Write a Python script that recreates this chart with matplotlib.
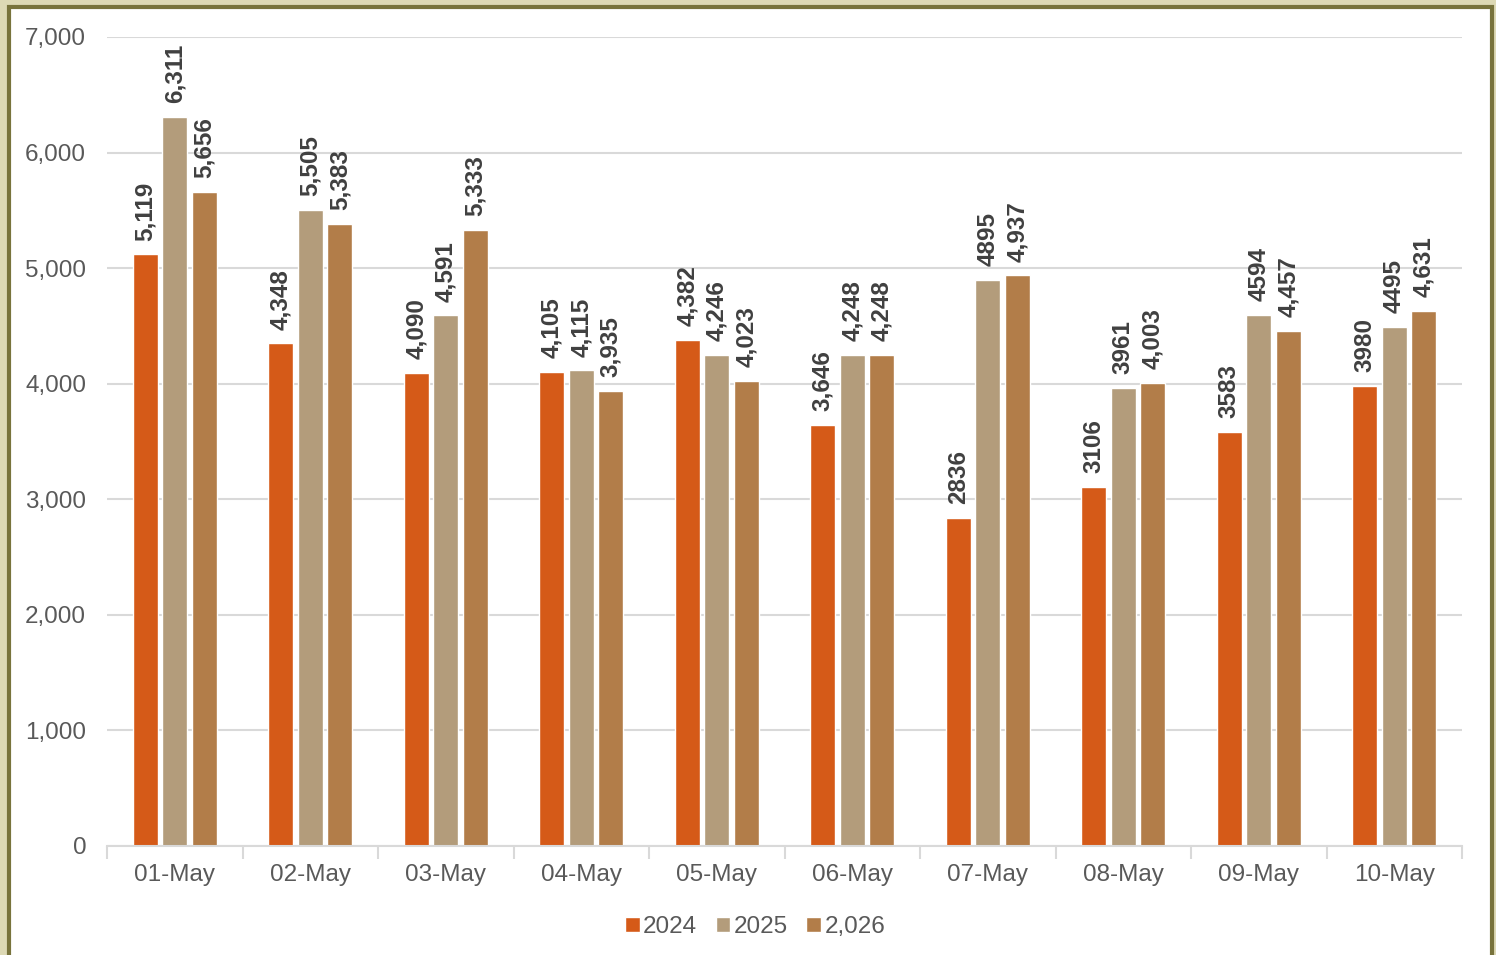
import numpy as np
import matplotlib.pyplot as plt
from matplotlib.patches import Rectangle

plt.rcParams["font.family"] = ["Liberation Sans", "DejaVu Sans"]

days = ["01-May", "02-May", "03-May", "04-May", "05-May",
        "06-May", "07-May", "08-May", "09-May", "10-May"]
series = ["2024", "2025", "2,026"]
v2024 = [5119, 4348, 4090, 4105, 4382, 3646, 2836, 3106, 3583, 3980]
v2025 = [6311, 5505, 4591, 4115, 4246, 4248, 4895, 3961, 4594, 4495]
v2026 = [5656, 5383, 5333, 3935, 4023, 4248, 4937, 4003, 4457, 4631]
lab2024 = ["5,119", "4,348", "4,090", "4,105", "4,382", "3,646", "2836", "3106", "3583", "3980"]
lab2025 = ["6,311", "5,505", "4,591", "4,115", "4,246", "4,248", "4895", "3961", "4594", "4495"]
lab2026 = ["5,656", "5,383", "5,333", "3,935", "4,023", "4,248", "4,937", "4,003", "4,457", "4,631"]
colors = ["#D55A18", "#B39C7B", "#B27D49"]
yticks = [0, 1000, 2000, 3000, 4000, 5000, 6000, 7000]

fig = plt.figure(figsize=(14.96, 9.55), dpi=100)
fig.patch.set_facecolor("#DDD9B5")
frame = Rectangle((8.5 / 1496, -0.05), (1492 - 8.5) / 1496, (955 - 7) / 955 + 0.05,
                  transform=fig.transFigure, facecolor="white",
                  edgecolor="#78733C", linewidth=3, zorder=-1)
fig.add_artist(frame)

ax = fig.add_axes([107 / 1496, 1 - 846 / 955, (1462 - 107) / 1496, (846 - 37) / 955])
ax.set_facecolor("none")
ax.set_zorder(1)

x = np.arange(len(days))
step = 0.218
width = 0.185
for i, (vals, labs) in enumerate(zip([v2024, v2025, v2026], [lab2024, lab2025, lab2026])):
    pos = x + (i - 1) * step
    ax.bar(pos, vals, width, color=colors[i], edgecolor="white", linewidth=1,
           label=series[i], zorder=2)
    for px, v, t in zip(pos, vals, labs):
        ax.annotate(t, (px, v), xytext=(0, 10), textcoords="offset points",
                    rotation=90, ha="center", va="bottom", fontsize=17.5,
                    fontweight="bold", color="#404040")

ax.set_xlim(-0.5, len(days) - 0.5)
ax.set_ylim(0, 7000)
ax.set_yticks(yticks)
ax.set_yticklabels([f"{t:,}" for t in yticks])
ax.yaxis.grid(True, color="#D9D9D9", linewidth=1.5, zorder=0)
ax.set_axisbelow(True)

ax.set_xticks(x)
ax.set_xticklabels(days)
ax.set_xticks(np.arange(len(days) + 1) - 0.5, minor=True)
ax.tick_params(axis="x", which="major", length=0, pad=13, labelsize=17.5, labelcolor="#595959")
ax.tick_params(axis="x", which="minor", length=9, width=1.5, color="#D9D9D9", direction="out")
ax.tick_params(axis="y", length=0, pad=15, labelsize=17.5, labelcolor="#595959")

for s in ["top", "right", "left"]:
    ax.spines[s].set_visible(False)
ax.spines["bottom"].set_color("#D9D9D9")
ax.spines["bottom"].set_linewidth(1.5)

leg = fig.legend(loc="center", bbox_to_anchor=(755 / 1496, 1 - 927 / 955), ncol=3,
                 frameon=False, fontsize=17.5, handlelength=0.6, handleheight=0.6,
                 handletextpad=0.15, columnspacing=0.75)
for t in leg.get_texts():
    t.set_color("#595959")

fig.savefig("out.png", dpi=100, facecolor=fig.get_facecolor())
